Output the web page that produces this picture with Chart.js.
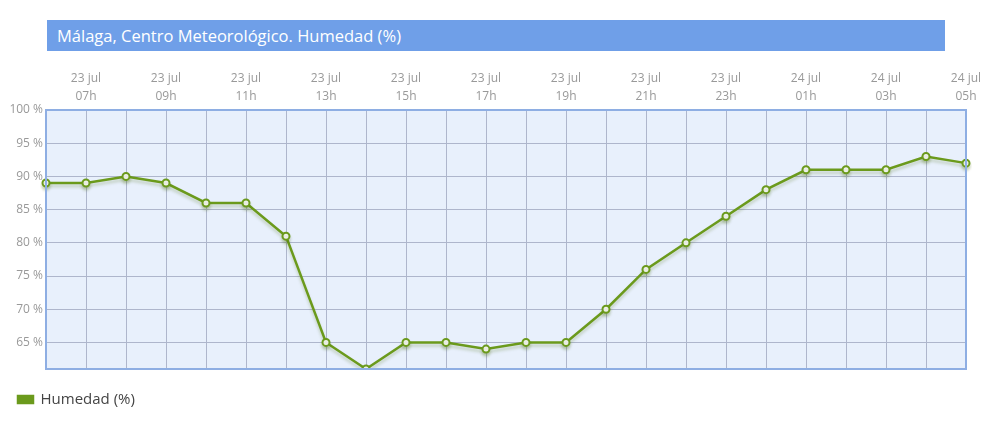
<!DOCTYPE html>
<html>
<head>
<meta charset="utf-8">
<script src="https://cdn.jsdelivr.net/npm/chart.js@4"></script>
<style>
    body { margin: 0; background: #fff; font-family: "Open Sans", sans-serif; }
    #wrap { position: relative; width: 987px; height: 430px; }
    #titulo {
        position: absolute; left: 47px; top: 20px; width: 898px; height: 31px;
        background: #6f9fe8; color: #fff; font-size: 16.5px; line-height: 31px;
        padding-left: 10px; box-sizing: border-box;
    }
    canvas { position: absolute; left: 0; top: 0; }
</style>
</head>
<body>
<div id="wrap">
    <div id="titulo">Málaga, Centro Meteorológico. Humedad (%)</div>
    <canvas id="humedad-chart" width="987" height="430"></canvas>
</div>
<script>
// horas de la serie (23 jul 06h -> 24 jul 05h)
const dias = ["23 jul", "23 jul", "23 jul", "23 jul", "23 jul", "23 jul", "23 jul", "23 jul", "23 jul", "23 jul", "23 jul", "23 jul",
    "23 jul", "23 jul", "23 jul", "23 jul", "23 jul", "23 jul", "24 jul", "24 jul", "24 jul", "24 jul", "24 jul", "24 jul"];
const horas = ["06h", "07h", "08h", "09h", "10h", "11h", "12h", "13h", "14h", "15h", "16h", "17h",
    "18h", "19h", "20h", "21h", "22h", "23h", "00h", "01h", "02h", "03h", "04h", "05h"];
const humedad = [89, 89, 90, 89, 86, 86, 81, 65, 61, 65, 65, 64, 65, 65, 70, 76, 80, 84, 88, 91, 91, 91, 93, 92];
const yTicks = [65, 70, 75, 80, 85, 90, 95, 100];

const verde = '#6b9a1c';
const azulBorde = '#8eaee3';

// fondo y marco del area del grafico
const marcoPlugin = {
    id: 'marco',
    beforeDraw(chart) {
        const {ctx, chartArea: a} = chart;
        ctx.save();
        ctx.fillStyle = '#e8f0fc';
        ctx.fillRect(a.left, a.top, a.right - a.left, a.bottom - a.top);
        ctx.restore();
    },
    afterDatasetsDraw(chart) {
        const {ctx, chartArea: a} = chart;
        ctx.save();
        ctx.strokeStyle = azulBorde;
        ctx.lineWidth = 2;
        ctx.strokeRect(a.left, a.top, a.right - a.left, a.bottom - a.top);
        ctx.restore();
    },
    beforeDatasetDraw(chart) {
        const ctx = chart.ctx;
        ctx.save();
        ctx.shadowColor = 'rgba(80, 110, 20, 0.25)';
        ctx.shadowOffsetY = 3;
        ctx.shadowBlur = 3;
    },
    afterDatasetDraw(chart) {
        chart.ctx.restore();
    }
};

const ctx = document.getElementById('humedad-chart');
new Chart(ctx, {
    type: 'line',
    data: {
        labels: horas.map((h, i) => [dias[i], h]),
        datasets: [{
            label: 'Humedad (%)',
            data: humedad,
            borderColor: verde,
            backgroundColor: verde,
            borderWidth: 2.5,
            tension: 0,
            pointRadius: 3.5,
            pointBorderWidth: 2,
            pointBackgroundColor: '#fff',
            pointBorderColor: verde
        }]
    },
    options: {
        responsive: false,
        animation: false,
        layout: { padding: { left: -5, right: 21, top: 70, bottom: 13 } },
        scales: {
            x: {
                position: 'top',
                offset: false,
                grid: { color: '#aeb6cc', drawTicks: false },
                border: { display: false },
                ticks: {
                    autoSkip: false,
                    maxRotation: 0,
                    padding: 4,
                    color: '#999',
                    font: { family: 'Open Sans', size: 12, lineHeight: 1.5 },
                    callback: function (v, i) {
                        return i % 2 === 1 ? this.getLabelForValue(v) : '';
                    }
                },
                afterFit(scale) { scale.height = 40; }
            },
            y: {
                min: 61,
                max: 100,
                afterBuildTicks(scale) { scale.ticks = yTicks.map(v => ({ value: v })); },
                grid: { color: '#aeb6cc', drawTicks: false },
                border: { display: false },
                ticks: {
                    padding: 3,
                    color: '#999',
                    font: { family: 'Open Sans', size: 12 },
                    callback: v => v + ' %'
                },
                afterFit(scale) { scale.width = 51; }
            }
        },
        plugins: {
            legend: {
                position: 'bottom',
                align: 'start',
                labels: {
                    boxWidth: 15,
                    boxHeight: 7,
                    padding: 23,
                    color: '#444',
                    font: { family: 'Open Sans', size: 15 }
                }
            },
            tooltip: { enabled: false }
        }
    },
    plugins: [marcoPlugin]
});
</script>
</body>
</html>
